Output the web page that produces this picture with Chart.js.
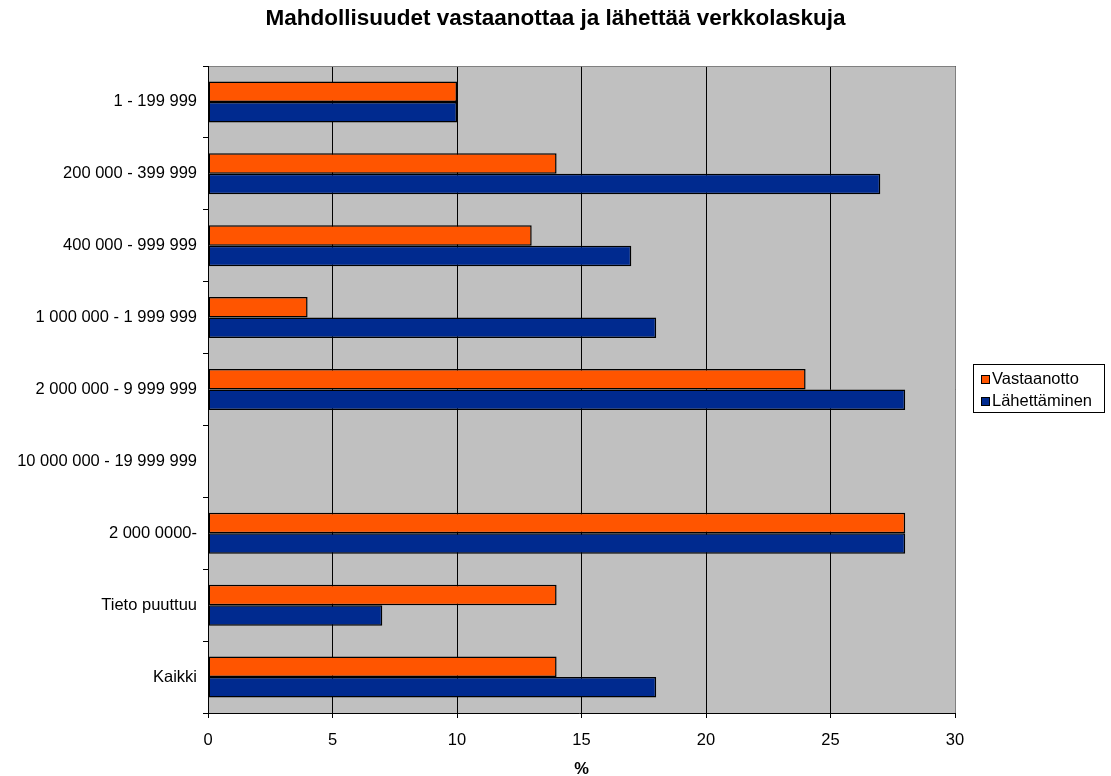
<!DOCTYPE html>
<html>
<head>
<meta charset="utf-8">
<script src="https://cdn.jsdelivr.net/npm/chart.js@4"></script>
<style>
  html, body { margin: 0; padding: 0; background: #fff; }
  #chart { display: block; }
</style>
</head>
<body>
<canvas id="chart" width="1111" height="776"></canvas>
<script>
const categories = [
  "1 - 199 999",
  "200 000 - 399 999",
  "400 000 - 999 999",
  "1 000 000 - 1 999 999",
  "2 000 000 - 9 999 999",
  "10 000 000 - 19 999 999",
  "2 000 0000-",
  "Tieto puuttuu",
  "Kaikki",
];
const vastaanotto = [10, 14, 13, 4, 24, null, 28, 14, 14];
const lahettaminen = [10, 27, 17, 18, 28, null, 28, 7, 18];
const xTicks = [0, 5, 10, 15, 20, 25, 30];
const chartTitle = "Mahdollisuudet vastaanottaa ja lähettää verkkolaskuja";

const FONT = "'Liberation Sans', Arial, sans-serif";
const FS = 16.5;

// gray plot background + frame + title
const plotBg = {
  id: "plotBg",
  beforeDraw(chart) {
    const { ctx, chartArea: { left, top, right, bottom } } = chart;
    ctx.save();
    ctx.fillStyle = "#C0C0C0";
    ctx.fillRect(left, top, right - left, bottom - top);
    ctx.fillStyle = "#000";
    ctx.font = "bold 22.5px " + FONT;
    ctx.textAlign = "center";
    ctx.textBaseline = "middle";
    ctx.fillText(chartTitle, 555.5, 19);
    ctx.restore();
  },
  afterDatasetsDraw(chart) {
    const { ctx, chartArea: { left, top, right, bottom } } = chart;
    ctx.save();
    ctx.strokeStyle = "#808080";
    ctx.lineWidth = 1;
    ctx.beginPath();
    ctx.moveTo(left, top + 0.5);
    ctx.lineTo(right + 0.5, top + 0.5);
    ctx.lineTo(right + 0.5, bottom);
    ctx.stroke();
    ctx.strokeStyle = "#000";
    ctx.beginPath();
    ctx.moveTo(left + 0.5, top);
    ctx.lineTo(left + 0.5, bottom + 0.5);
    ctx.moveTo(left - 5, bottom + 0.5);
    ctx.lineTo(right + 0.5, bottom + 0.5);
    ctx.stroke();
    ctx.restore();
  },
};

// boxed legend on the right
const boxLegend = {
  id: "boxLegend",
  afterDraw(chart) {
    const ctx = chart.ctx;
    const x = 973, y = 364, w = 131, h = 48;
    ctx.save();
    ctx.fillStyle = "#fff";
    ctx.fillRect(x, y, w, h);
    ctx.strokeStyle = "#000";
    ctx.lineWidth = 1;
    ctx.strokeRect(x + 0.5, y + 0.5, w, h);
    ctx.font = FS + "px " + FONT;
    ctx.textAlign = "left";
    ctx.textBaseline = "middle";
    chart.data.datasets.forEach((ds, i) => {
      const cy = y + 15.5 + i * 22;
      ctx.fillStyle = ds.backgroundColor;
      ctx.fillRect(x + 8.5, cy - 4, 8, 8);
      ctx.strokeRect(x + 8.5, cy - 4, 8, 8);
      ctx.fillStyle = "#000";
      ctx.fillText(ds.label, x + 19, cy);
    });
    ctx.restore();
  },
};

const chart = new Chart(document.getElementById("chart").getContext("2d"), {
  type: "bar",
  data: {
    labels: categories,
    datasets: [
      {
        label: "Vastaanotto",
        data: vastaanotto,
        backgroundColor: "#FF5500",
        borderColor: "#000",
        borderWidth: 1.5,
        borderSkipped: false,
      },
      {
        label: "Lähettäminen",
        data: lahettaminen,
        backgroundColor: "#002A8F",
        borderColor: "#000",
        borderWidth: 1.5,
        borderSkipped: false,
      },
    ],
  },
  plugins: [plotBg, boxLegend],
  options: {
    responsive: false,
    animation: false,
    indexAxis: "y",
    categoryPercentage: 0.57,
    barPercentage: 1.0,
    layout: {
      padding: { left: 0, right: 156, top: 66, bottom: 0 },
    },
    plugins: {
      legend: { display: false },
      tooltip: { enabled: false },
      title: { display: false },
    },
    scales: {
      x: {
        min: 0,
        max: 30,
        afterBuildTicks(scale) {
          scale.ticks = xTicks.map((v) => ({ value: v }));
        },
        afterFit(scale) {
          scale.height = 776 - 713;
        },
        grid: {
          color: "#000",
          lineWidth: 1,
          drawTicks: true,
          tickLength: 5,
          tickColor: "#000",
        },
        border: { display: false },
        ticks: {
          color: "#000",
          padding: 13,
          font: { family: FONT, size: FS },
        },
        title: {
          display: true,
          text: "%",
          color: "#000",
          font: { family: FONT, size: FS, weight: "bold", lineHeight: 1 },
          padding: { top: 0, bottom: -2 },
        },
      },
      y: {
        afterFit(scale) {
          scale.width = 208;
        },
        grid: {
          offset: true,
          drawOnChartArea: false,
          drawTicks: true,
          tickLength: 5,
          tickColor: "#000",
        },
        border: { display: false },
        ticks: {
          color: "#000",
          padding: 6,
          font: { family: FONT, size: FS },
        },
      },
    },
  },
});
</script>
</body>
</html>
